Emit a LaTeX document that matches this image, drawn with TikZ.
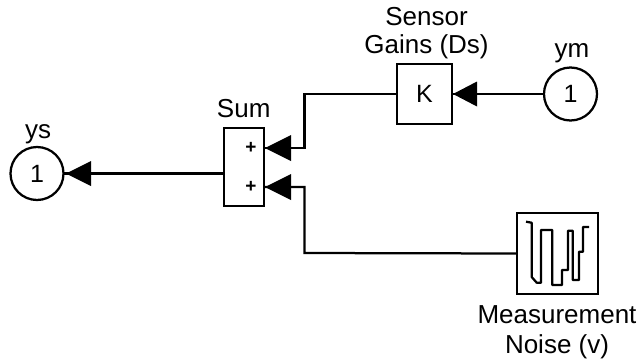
\documentclass[tikz,border=0pt]{standalone}
\usepackage{fontspec}
\setmainfont{Liberation Sans}
\tikzset{
 x=1pt,y=-1pt,
 blk/.style={draw,line width=2.25pt,fill=white,inner sep=0pt,outer sep=0pt},
 port/.style={draw,circle,line width=2.25pt,fill=white,minimum size=53pt,inner sep=0pt,outer sep=0pt,font=\fontsize{25}{28}\selectfont},
 lbl/.style={font=\fontsize{26}{29}\selectfont,align=center,inner sep=0pt,anchor=base},
 plusm/.style={font=\bfseries\fontsize{19}{19}\selectfont,inner sep=0pt},
 wire/.style={line width=2.25pt},
 tip/.style={fill=black,draw=none}
}
\begin{document}
\begin{tikzpicture}
\useasboundingbox (0,0) rectangle (639,362);
\node[blk,minimum width=40pt,minimum height=78pt] (sum) at (244,167) {};
\node[plusm] (p1) at (251,148) {+};
\node[plusm] (p2) at (251,187) {+};
\node[blk,minimum width=55pt,minimum height=60pt,font=\fontsize{25}{28}\selectfont] (k) at (424.5,94) {K};
\node[blk,minimum width=81pt,minimum height=81pt] (noise) at (557.5,253.5) {};
\node[port] (ym) at (570.5,94) {1};
\node[port] (ys) at (37,173.5) {1};
\node[lbl] (lk1) at (426.5,25) {Sensor};
\node[lbl] (lk2) at (426.5,53) {Gains (Ds)};
\node[lbl] (lym) at (572,57) {ym};
\node[lbl] (lsum) at (243.7,117) {Sum};
\node[lbl] (lys) at (38,138) {ys};
\node[lbl] (ln1) at (557,323) {Measurement};
\node[lbl] (ln2) at (557,353) {Noise (v)};
\coordinate (a1) at (265,148);
\coordinate (a2) at (265,187);
\coordinate (s) at (sum.west |- ys.east);
\draw[wire] (k.west) -- (304.5,94) -- (304.5,148) -- (a1);
\draw[wire] (noise.west) -- (304.5,253) -- (304.5,187) -- (a2);
\draw[wire] (ym.west) -- (k.east);
\draw[wire] (s) -- (ys.east);
\fill[tip] (a1) -- (291,135) -- (291,161) -- cycle;
\fill[tip] (a2) -- (291,174) -- (291,200) -- cycle;
\fill[tip] (453,94) -- (477,81.5) -- (477,106.5) -- cycle;
\fill[tip] (66,173.5) -- (91,161) -- (91,186) -- cycle;
\draw[line width=2.25pt,line join=round] (526,221.7) -- (531.7,222.7) -- (531.7,277) -- (536.7,282.7) -- (541,282.7) -- (541,230) -- (552.3,230) -- (552.3,285) -- (562,285) -- (562,270) -- (568,270) -- (568,230.7) -- (572.7,230.7) -- (572.7,280) -- (579,280) -- (579,251.7) -- (583,251.7) -- (583,227) -- (589,227);
\end{tikzpicture}
\end{document}
